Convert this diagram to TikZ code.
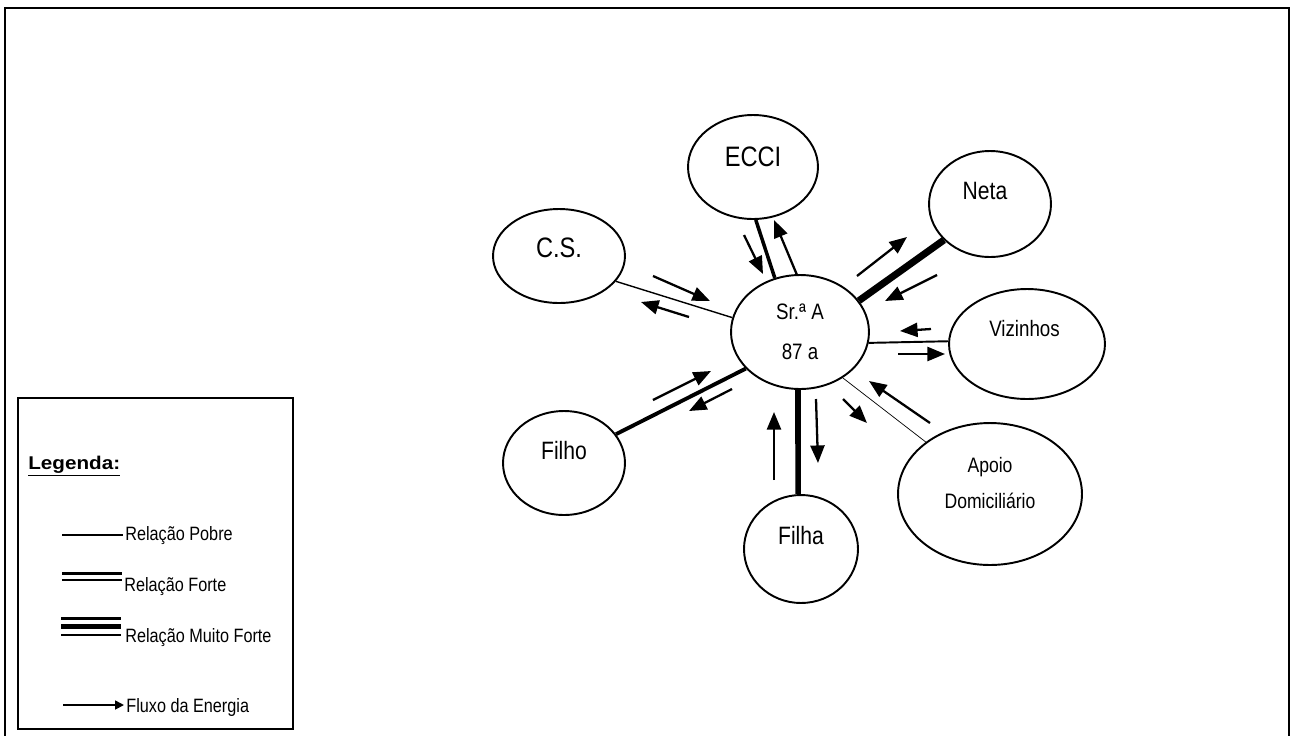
\documentclass[tikz,border=0pt]{standalone}
\usepackage{fontspec}
\setmainfont{Liberation Sans}[FakeStretch=0.84]
\newfontfamily\legfont{Liberation Sans}[FakeStretch=1.12]
\usetikzlibrary{shapes.geometric,arrows.meta}

\begin{document}
\begin{tikzpicture}[x=0.02cm,y=-0.02cm]
\tikzstyle{pessoa}=[draw,shape=ellipse,line width=1.1pt,inner sep=0pt]
\tikzstyle{grande}=[font=\fontsize{16}{19}\selectfont]
\tikzstyle{medio}=[font=\fontsize{14.3}{17}\selectfont]
\tikzstyle{pequeno}=[font=\fontsize{12.7}{15}\selectfont]
\tikzstyle{legtexto}=[anchor=base west,inner sep=0pt,font=\fontsize{11}{13}\selectfont]
\tikzstyle{fluxo}=[line width=1.3pt,-{Triangle[length=10pt,width=8pt]}]
\useasboundingbox (0,0) rectangle (1296,735);
% moldura
\draw[line width=1.4pt] (5,745) -- (5,8) -- (1289,8) -- (1289,745);

% ecomapa
\node[pessoa,minimum width=2.76cm,minimum height=2.28cm,align=center,
  font=\fontsize{12.7}{22.7}\selectfont] (sra) at (800,332) {Sr.ª A\\87 a};
\node[pessoa,minimum width=2.6cm,minimum height=2.08cm,
  label={[grande,yshift=0.2cm]center:ECCI}] (ecci) at (753,167) {};
\node[pessoa,minimum width=2.64cm,minimum height=1.88cm,
  label={[grande,yshift=0.17cm]center:C.S.}] (cs) at (559,256) {};
\node[pessoa,minimum width=2.44cm,minimum height=2.12cm,
  label={[medio,yshift=0.26cm,xshift=-0.1cm]center:Neta}] (neta) at (990,204) {};
\node[pessoa,minimum width=3.12cm,minimum height=2.2cm,
  label={[pequeno,yshift=0.3cm,xshift=-0.05cm]center:Vizinhos}] (viz) at (1027,344) {};
\node[pessoa,minimum width=3.68cm,minimum height=2.84cm,
  label={[align=center,font=\fontsize{11.9}{21}\selectfont,yshift=0.22cm]center:{Apoio\\Domiciliário}}] (apoio) at (990,494) {};
\node[pessoa,minimum width=2.28cm,minimum height=2.16cm,
  label={[medio,yshift=0.26cm]center:Filha}] (filha) at (801,549) {};
\node[pessoa,minimum width=2.44cm,minimum height=2.08cm,
  label={[medio,yshift=0.24cm]center:Filho}] (filho) at (564,463) {};

% relacoes
\draw[line width=0.8pt] (cs.336) -- (sra.168);
\draw[line width=2pt] (ecci.273) -- (sra.115);
\draw[line width=4pt] (sra.28) -- (neta.218);
\draw[line width=1.1pt] (sra.351) -- (viz.178);
\draw[line width=0.4pt] (sra.313) -- (apoio.141);
\draw[line width=3.2pt] (sra.268) -- (filha.93);
\draw[line width=2.2pt] (sra.214) -- (filho.29);

% fluxos
\foreach \xa/\ya/\xb/\yb in {653/276/710/301, 689/317/641/302,
  744/235/763/274, 797/275/774/220, 857/276/907/237, 937/275/885/301,
  931/329/900/331, 898/354/945/354, 930/423/869/381, 843/399/867/423,
  774/480/774/412, 816/399/818/463, 653/400/711/371, 732/389/689/411}
  \draw[fluxo] (\xa,\ya) -- (\xb,\yb);

% legenda
\draw[line width=0.9pt] (18,398) rectangle (293,729);
\node[anchor=base west,inner sep=0pt,font=\legfont\bfseries\fontsize{10.5}{12}\selectfont]
  (legenda) at (28,469) {\underline{Legenda:}};
\node[legtexto] (pobre) at (125,540) {Relação Pobre};
\node[legtexto] (forte) at (124,591) {Relação Forte};
\node[legtexto] (muitoforte) at (125,642) {Relação Muito Forte};
\node[legtexto] (energia) at (126,712) {Fluxo da Energia};
\draw[line width=0.7pt] (62,535) -- (123,535);
\draw[line width=1.4pt] (62,573.5) -- (122,573.5);
\draw[line width=1.4pt] (62,580) -- (122,580);
\draw[line width=1.4pt] (61,618.5) -- (121,618.5);
\draw[line width=3.2pt] (61,626.5) -- (121,626.5);
\draw[line width=1.4pt] (61,635) -- (121,635);
\draw[line width=1pt,-{Triangle[length=5pt,width=5pt]}] (63,705) -- (124,705);
\end{tikzpicture}
\end{document}
